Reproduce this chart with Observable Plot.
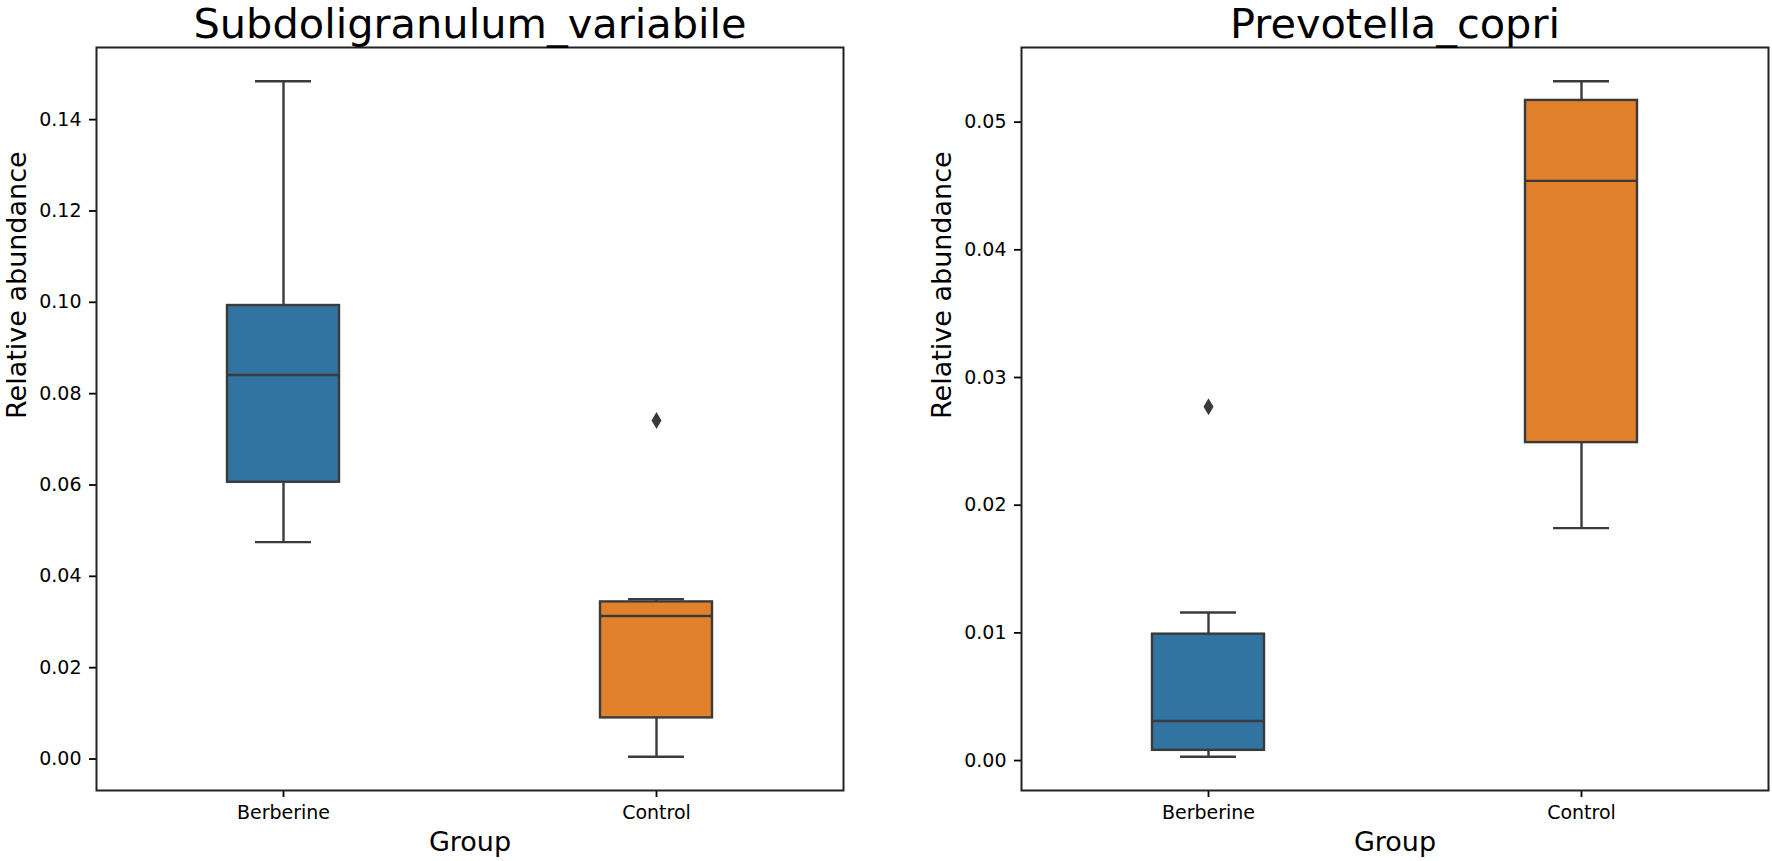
<!DOCTYPE html>
<html><head><meta charset="utf-8">
<script src="https://cdn.jsdelivr.net/npm/d3@7"></script>
<script src="https://cdn.jsdelivr.net/npm/@observablehq/plot@0.6"></script>
<style>
body{margin:0;background:#fff;font-family:"DejaVu Sans",sans-serif;}
#wrap{display:flex;width:1772px;height:861px;}
</style>
</head><body><div id="wrap"></div>
<script>
const groups = ["Berberine", "Control"];
const boxColors = ["#3274a1", "#e1812c"];
const xLabel = "Group";
const yLabel = "Relative abundance";

// Panel 1: Subdoligranulum_variabile
const subTitle = "Subdoligranulum_variabile";
const subWhiskerLow  = [0.0475, 0.0005];
const subQ1          = [0.0606, 0.0090];
const subMedian      = [0.0841, 0.0313];
const subQ3          = [0.0993, 0.0344];
const subWhiskerHigh = [0.1484, 0.0350];
const subOutlierGroup = ["Control"];
const subOutlierValue = [0.0741];
const subTicks = [0.00, 0.02, 0.04, 0.06, 0.08, 0.10, 0.12, 0.14];

// Panel 2: Prevotella_copri
const prevTitle = "Prevotella_copri";
const prevWhiskerLow  = [0.0003, 0.0182];
const prevQ1          = [0.0008, 0.0249];
const prevMedian      = [0.0031, 0.0454];
const prevQ3          = [0.0099, 0.0517];
const prevWhiskerHigh = [0.0116, 0.0532];
const prevOutlierGroup = ["Berberine"];
const prevOutlierValue = [0.0277];
const prevTicks = [0.00, 0.01, 0.02, 0.03, 0.04, 0.05];

const edge = "#3a3a3a";
const thinDiamond = {
  draw(ctx, size) {
    const r = Math.sqrt(size / Math.PI);
    ctx.moveTo(0, -r * 1.7);
    ctx.lineTo(r, 0);
    ctx.lineTo(0, r * 1.7);
    ctx.lineTo(-r, 0);
    ctx.closePath();
  }
};

function panel({title, lo, q1, med, q3, hi, outG, outV, ticks, marginLeft, marginRight}) {
  const rows = groups.map((g, i) => ({group: g, lo: lo[i], q1: q1[i], med: med[i], q3: q3[i], hi: hi[i]}));
  const outliers = outG.map((g, i) => ({group: g, v: outV[i]}));
  const all = [...lo, ...hi, ...outV];
  const [mn, mx] = d3.extent(all);
  const pad = (mx - mn) * 0.05;
  return Plot.plot({
    width: 886,
    height: 861,
    marginTop: 47,
    marginBottom: 71,
    marginLeft,
    marginRight,
    style: {fontFamily: "DejaVu Sans", fontSize: "19px", color: "#000", background: "#fff"},
    x: {domain: groups, paddingInner: 0.7, paddingOuter: 0.35, label: null},
    y: {domain: [mn - pad, mx + pad], label: null},
    color: {domain: groups, range: boxColors},
    marks: [
      Plot.ruleX(rows, {x: "group", y1: "lo", y2: "q1", stroke: edge, strokeWidth: 2.4}),
      Plot.ruleX(rows, {x: "group", y1: "q3", y2: "hi", stroke: edge, strokeWidth: 2.4}),
      Plot.tickY(rows, {x: "group", y: "lo", stroke: edge, strokeWidth: 2.4, insetLeft: 28, insetRight: 28}),
      Plot.tickY(rows, {x: "group", y: "hi", stroke: edge, strokeWidth: 2.4, insetLeft: 28, insetRight: 28}),
      Plot.barY(rows, {x: "group", y1: "q1", y2: "q3", fill: "group", stroke: edge, strokeWidth: 2.4}),
      Plot.tickY(rows, {x: "group", y: "med", stroke: edge, strokeWidth: 2.4}),
      Plot.dot(outliers, {x: "group", y: "v", symbol: thinDiamond, r: 5, fill: edge, stroke: "none"}),
      Plot.axisY({ticks, tickFormat: d3.format(".2f"), tickSize: 7, tickPadding: 8, fontSize: 19, strokeWidth: 1.8, label: null}),
      Plot.axisX({tickSize: 7, tickPadding: 8, fontSize: 19, strokeWidth: 1.8, label: null}),
      Plot.frame({stroke: "#222", strokeWidth: 2}),
      Plot.text([title], {frameAnchor: "top", dy: -10, lineAnchor: "bottom", fontSize: 41.5, fill: "#000"}),
      Plot.text([xLabel], {frameAnchor: "bottom", dy: 60, lineAnchor: "bottom", fontSize: 27, fill: "#000"}),
      Plot.text([yLabel], {frameAnchor: "left", dx: -71, rotate: -90, lineAnchor: "bottom", fontSize: 27, fill: "#000"})
    ]
  });
}

const wrap = document.getElementById("wrap");
wrap.append(panel({title: subTitle, lo: subWhiskerLow, q1: subQ1, med: subMedian, q3: subQ3, hi: subWhiskerHigh,
  outG: subOutlierGroup, outV: subOutlierValue, ticks: subTicks, marginLeft: 96, marginRight: 43}));
wrap.append(panel({title: prevTitle, lo: prevWhiskerLow, q1: prevQ1, med: prevMedian, q3: prevQ3, hi: prevWhiskerHigh,
  outG: prevOutlierGroup, outV: prevOutlierValue, ticks: prevTicks, marginLeft: 135, marginRight: 4}));
</script>
</body></html>
